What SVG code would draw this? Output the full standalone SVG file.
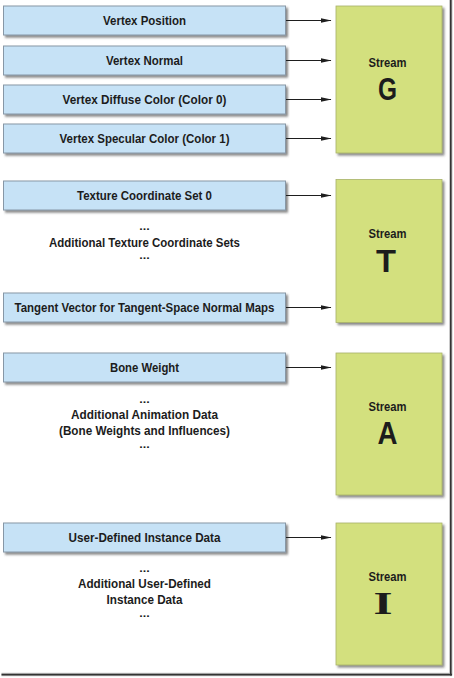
<svg xmlns="http://www.w3.org/2000/svg" width="454" height="678" viewBox="0 0 454 678">
<defs>
<filter id="sh" x="-5%" y="-20%" width="115%" height="150%">
<feDropShadow dx="2" dy="2.2" stdDeviation="0.9" flood-color="#4a4a4a" flood-opacity="0.65"/>
</filter>
<marker id="ah" markerUnits="userSpaceOnUse" markerWidth="11" markerHeight="6" refX="10.5" refY="3" orient="auto">
<path d="M0,0.6 L11,3 L0,5.4 Z" fill="#1e1e1e"/>
</marker>
<style>
.b{fill:#c6e2f6;stroke:#8797a6;stroke-width:1;filter:url(#sh)}
.g{fill:#d3e07e;stroke:#a9b26a;stroke-width:0.8;filter:url(#sh)}
text{font-family:"Liberation Sans",Arial,sans-serif;font-weight:bold;fill:#1c1c1c;text-anchor:middle}
.t{font-size:12.5px}
.d{font-size:10.5px}
.s{font-size:12.5px}
.L{font-size:32px}
.c line{stroke:#1e1e1e;stroke-width:1.1;marker-end:url(#ah)}
</style>
</defs>
<rect width="454" height="678" fill="#ffffff"/>
<g id="frame">
<line x1="450.8" y1="0" x2="450.8" y2="675.5" stroke="#c8c8c8" stroke-width="3.5"/>
<line x1="1.5" y1="674.6" x2="452" y2="674.6" stroke="#c8c8c8" stroke-width="3.5"/>
<line x1="450.8" y1="0" x2="450.8" y2="675.5" stroke="#333" stroke-width="1.6"/>
<line x1="1.5" y1="674.6" x2="452" y2="674.6" stroke="#333" stroke-width="1.6"/>
</g>

<g id="vertex-position"><rect class="b" x="3.5" y="6" width="282" height="29"/><text class="t" x="144.5" y="25.3" textLength="83" lengthAdjust="spacingAndGlyphs">Vertex Position</text></g>
<g id="vertex-normal"><rect class="b" x="3.5" y="46" width="282" height="29"/><text class="t" x="144.5" y="65.3" textLength="77" lengthAdjust="spacingAndGlyphs">Vertex Normal</text></g>
<g id="vertex-diffuse"><rect class="b" x="3.5" y="85" width="282" height="29"/><text class="t" x="144.5" y="104.3" textLength="164" lengthAdjust="spacingAndGlyphs">Vertex Diffuse Color (Color 0)</text></g>
<g id="vertex-specular"><rect class="b" x="3.5" y="124" width="282" height="29"/><text class="t" x="144.5" y="143.3" textLength="170" lengthAdjust="spacingAndGlyphs">Vertex Specular Color (Color 1)</text></g>

<g id="texcoord0"><rect class="b" x="3.5" y="181" width="282" height="29"/><text class="t" x="144.5" y="200.3" textLength="135" lengthAdjust="spacingAndGlyphs">Texture Coordinate Set 0</text></g>
<g id="texcoord-more">
<text class="d" x="144.5" y="229.5" textLength="10.5" lengthAdjust="spacingAndGlyphs">...</text>
<text class="t" x="144.5" y="246.5" textLength="191" lengthAdjust="spacingAndGlyphs">Additional Texture Coordinate Sets</text>
<text class="d" x="144.5" y="259" textLength="10.5" lengthAdjust="spacingAndGlyphs">...</text>
</g>
<g id="tangent"><rect class="b" x="3.5" y="293" width="282" height="29"/><text class="t" x="144.5" y="312.3" textLength="260" lengthAdjust="spacingAndGlyphs">Tangent Vector for Tangent-Space Normal Maps</text></g>

<g id="bone-weight"><rect class="b" x="3.5" y="353" width="282" height="29"/><text class="t" x="144.5" y="372.3" textLength="69" lengthAdjust="spacingAndGlyphs">Bone Weight</text></g>
<g id="anim-more">
<text class="d" x="144.5" y="402.5" textLength="10.5" lengthAdjust="spacingAndGlyphs">...</text>
<text class="t" x="144.5" y="419" textLength="147" lengthAdjust="spacingAndGlyphs">Additional Animation Data</text>
<text class="t" x="144.5" y="435" textLength="171" lengthAdjust="spacingAndGlyphs">(Bone Weights and Influences)</text>
<text class="d" x="144.5" y="447.5" textLength="10.5" lengthAdjust="spacingAndGlyphs">...</text>
</g>

<g id="user-instance"><rect class="b" x="3.5" y="523" width="282" height="29"/><text class="t" x="144.5" y="542.3" textLength="152" lengthAdjust="spacingAndGlyphs">User-Defined Instance Data</text></g>
<g id="user-more">
<text class="d" x="144.5" y="571.5" textLength="10.5" lengthAdjust="spacingAndGlyphs">...</text>
<text class="t" x="144.5" y="588" textLength="133" lengthAdjust="spacingAndGlyphs">Additional User-Defined</text>
<text class="t" x="144.5" y="604" textLength="76" lengthAdjust="spacingAndGlyphs">Instance Data</text>
<text class="d" x="144.5" y="616.5" textLength="10.5" lengthAdjust="spacingAndGlyphs">...</text>
</g>

<g id="stream-g"><rect class="g" x="336" y="6" width="106" height="147"/><text class="s" x="387.5" y="67" textLength="38" lengthAdjust="spacingAndGlyphs">Stream</text><text class="L" x="387.5" y="99.5" textLength="19" lengthAdjust="spacingAndGlyphs">G</text></g>
<g id="stream-t"><rect class="g" x="336" y="179.5" width="106" height="143"/><text class="s" x="387.5" y="237.5" textLength="38" lengthAdjust="spacingAndGlyphs">Stream</text><text class="L" x="386" y="271.5" textLength="20" lengthAdjust="spacingAndGlyphs">T</text></g>
<g id="stream-a"><rect class="g" x="336" y="353" width="106" height="142"/><text class="s" x="387.5" y="410.5" textLength="38" lengthAdjust="spacingAndGlyphs">Stream</text><text class="L" x="387.5" y="443.5" textLength="20" lengthAdjust="spacingAndGlyphs">A</text></g>
<g id="stream-i"><rect class="g" x="336" y="523" width="106" height="142"/><text class="s" x="387.5" y="580.5" textLength="38" lengthAdjust="spacingAndGlyphs">Stream</text><text class="L" x="383" y="613.5" style="font-family:'Liberation Serif','Times New Roman',serif" textLength="19" lengthAdjust="spacingAndGlyphs">I</text></g>

<g id="connectors" class="c">
<line x1="286" y1="20.5" x2="331" y2="20.5"/>
<line x1="286" y1="60.5" x2="331" y2="60.5"/>
<line x1="286" y1="99.5" x2="331" y2="99.5"/>
<line x1="286" y1="138.5" x2="331" y2="138.5"/>
<line x1="286" y1="195.5" x2="331" y2="195.5"/>
<line x1="286" y1="307.5" x2="331" y2="307.5"/>
<line x1="286" y1="367.5" x2="331" y2="367.5"/>
<line x1="286" y1="537.5" x2="331" y2="537.5"/>
</g>
</svg>
